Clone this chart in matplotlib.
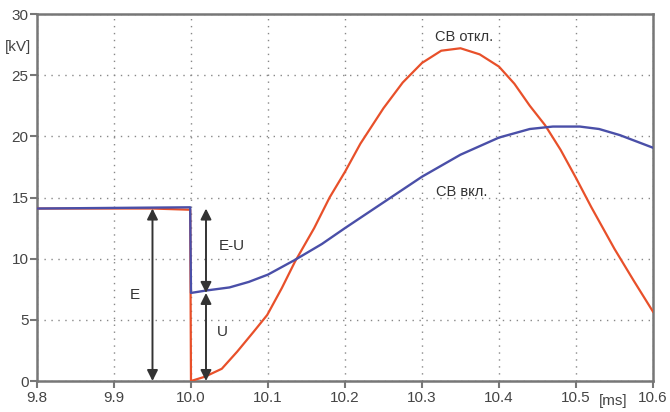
import matplotlib
matplotlib.use("Agg")
import matplotlib.pyplot as plt

plt.rcParams['font.family'] = ['Liberation Sans', 'DejaVu Sans']

# Data
red_t = [9.8, 9.95, 9.999, 10.0, 10.018, 10.04, 10.06, 10.081, 10.099, 10.118, 10.135,
         10.16, 10.18, 10.2, 10.22, 10.25, 10.275, 10.3, 10.325, 10.35, 10.375,
         10.4, 10.42, 10.44, 10.46, 10.48, 10.5, 10.52, 10.55, 10.575, 10.6]
red_v = [14.1, 14.1, 14.0, 0.0, 0.35, 1.0, 2.4, 4.0, 5.4, 7.6, 9.75,
         12.5, 15.0, 17.1, 19.4, 22.3, 24.4, 26.0, 27.0, 27.2, 26.7,
         25.7, 24.3, 22.5, 20.9, 18.9, 16.6, 14.2, 10.8, 8.2, 5.67]

blue_t = [9.8, 9.999, 10.0, 10.02, 10.05, 10.075, 10.1, 10.135, 10.17, 10.2, 10.25,
          10.3, 10.35, 10.4, 10.44, 10.47, 10.505, 10.53, 10.557, 10.6]
blue_v = [14.1, 14.2, 7.2, 7.4, 7.65, 8.1, 8.7, 9.9, 11.2, 12.5, 14.6,
          16.7, 18.5, 19.9, 20.6, 20.8, 20.8, 20.6, 20.1, 19.07]

x_ticks = [9.8, 9.9, 10.0, 10.1, 10.2, 10.3, 10.4, 10.5, 10.6]
x_labels = ['9.8', '9.9', '10.0', '10.1', '10.2', '10.3', '10.4', '10.5', '10.6']
y_ticks = [0, 5, 10, 15, 20, 25, 30]

E_val = 14.1
U_val = 7.2

fig = plt.figure(figsize=(6.7, 4.12), dpi=100)
ax = fig.add_axes([0.0552, 0.0752, 0.9194, 0.8908])

ax.plot(red_t, red_v, color='#e8502a', lw=1.6, zorder=3, solid_joinstyle='round')
ax.plot(blue_t, blue_v, color='#4a4fa8', lw=1.7, zorder=4, solid_joinstyle='round')

ax.set_xlim(9.8, 10.6)
ax.set_ylim(0, 30)
ax.set_xticks(x_ticks)
ax.set_xticklabels(x_labels)
ax.set_yticks(y_ticks)

for s in ax.spines.values():
    s.set_color('#777777')
    s.set_linewidth(1.8)

ax.tick_params(axis='both', direction='out', length=5, width=1.5, color='#777777',
               labelcolor='#444444', labelsize=11)
ax.tick_params(axis='x', pad=2)
ax.tick_params(axis='y', pad=1)

ax.grid(True, linestyle=(0, (1, 4)), color='#888888', lw=1.0)
ax.set_axisbelow(True)

arrow_kw = dict(arrowstyle='<|-|>', color='#333333', lw=1.4,
                mutation_scale=16, shrinkA=0, shrinkB=0)
ax.annotate('', xy=(9.95, 0), xytext=(9.95, E_val), arrowprops=arrow_kw, zorder=5)
ax.annotate('', xy=(10.0195, U_val), xytext=(10.0195, E_val), arrowprops=arrow_kw, zorder=5)
ax.annotate('', xy=(10.0195, 0), xytext=(10.0195, U_val), arrowprops=arrow_kw, zorder=5)

tc = '#333333'
ax.text(9.927, 7.0, 'E', ha='center', va='center', fontsize=11, color=tc)
ax.text(10.053, 11.0, 'E-U', ha='center', va='center', fontsize=11, color=tc)
ax.text(10.041, 4.0, 'U', ha='center', va='center', fontsize=11, color=tc)
ax.text(10.355, 28.1, 'СВ откл.', ha='center', va='center', fontsize=10.5, color=tc)
ax.text(10.352, 15.45, 'СВ вкл.', ha='center', va='center', fontsize=10.5, color=tc)

fig.text(5 / 670, 1 - 47 / 412, '[kV]', ha='left', va='center', fontsize=11, color='#444444')
fig.text(613 / 670, 1 - 401 / 412, '[ms]', ha='center', va='center', fontsize=11, color='#444444')

fig.savefig('out.png', dpi=100)
